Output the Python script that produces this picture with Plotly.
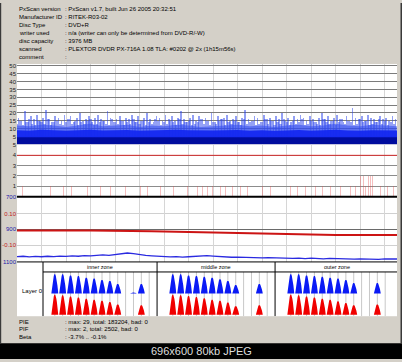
import plotly.graph_objects as go

W, H = 402, 362


def px(x):
    return x / W


def py(y):
    return 1 - y / H


# ---------------- data ----------------
info_labels = ["PxScan version", "Manufacturer ID", "Disc Type", "writer used",
               "disc capacity", "scanned", "comment"]
info_values = ["PxScan v1.7, built Jun 26 2005 20:32:51", "RITEK-R03-02", "DVD+R",
               "n/a (writer can only be determined from DVD-R/-W)", "3976 MB",
               "PLEXTOR DVDR PX-716A 1.08 TLA: #0202 @ 2x (1h15m56s)", ""]

summary_labels = ["PIE", "PIF", "Beta"]
summary_values = ["max: 29, total: 183204, bad: 0", "max: 2, total: 2502, bad: 0",
                  "-3.7% .. -0.1%"]

pie_ticks = [5, 10, 15, 20, 25, 30, 35, 40, 45, 50]
pif_ticks = [1, 2, 3, 4, 5]
jitter_ticks = [700, 900, 1100]
beta_ticks = [0.10, -0.10]
beta_tick_text = ["0.10", "-0.10"]

# PIE: sparse spike maxima (positions every 0.125 along the disc)
pie_spike_x = [0.0625 + 0.125 * i for i in range(124)]
pie_spikes = [17, 15, 21, 14, 18, 16, 19, 15, 17, 22, 16, 14, 18, 17, 15, 19, 16, 18, 14, 17,
              20, 15, 16, 18, 14, 17, 19, 16, 15, 21, 17, 14, 16, 18, 15, 17, 16, 19, 14, 18,
              15, 17, 20, 16, 14, 18, 17, 15, 19, 16, 18, 15, 17, 21, 16, 14, 17, 19, 15, 18,
              16, 17, 15, 20, 14, 18, 16, 17, 19, 15, 16, 18, 14, 17, 22, 16, 15, 18, 17, 14,
              19, 16, 17, 15, 18, 16, 20, 15, 17, 14, 18, 16, 19, 17, 15, 18, 16, 14, 17, 20,
              16, 18, 15, 17, 19, 16, 14, 18, 15, 23, 17, 16, 18, 15, 19, 17, 16, 14, 18, 16,
              17, 15, 18, 16]
# PIE: in-between fuzz (offset positions)
pie_fuzz_x = [0.125 * i for i in range(124)]
pie_fuzz = [13, 15, 12, 14, 16, 13, 12, 15, 14, 13, 16, 12, 14, 15, 13, 12, 14, 16, 13, 15,
            12, 14, 13, 15, 16, 12, 13, 14, 15, 13, 12, 16, 14, 13, 15, 12, 14, 13, 16, 14,
            13, 15, 12, 14, 13, 16, 15, 12, 14, 13, 15, 14, 12, 16, 13, 14, 15, 12, 13, 14,
            16, 13, 15, 12, 14, 13, 15, 16, 12, 14, 13, 15, 14, 12, 16, 13, 14, 15, 12, 13,
            14, 16, 13, 15, 12, 14, 13, 16, 14, 12, 15, 13, 14, 16, 12, 13, 15, 14, 13, 12,
            16, 14, 13, 15, 12, 14, 16, 13, 15, 14, 12, 13, 16, 14, 15, 12, 13, 14, 16, 13,
            15, 12, 14, 13]
# PIE: dense envelopes (every 0.5)
pie_env_x = [0.5 * i for i in range(32)]
pie_mid = [12, 11.5, 12.5, 12, 11, 12, 13, 11.5, 12, 12.5, 11, 12, 11.5, 12.5, 12, 11,
           11.5, 12, 12.5, 11.5, 12, 11, 12, 12.5, 11.5, 12, 13, 12, 11.5, 12.5, 12, 11.5]
pie_core = [9, 8.6, 9.3, 8.8, 8.6, 9, 9.3, 8.7, 8.9, 9.1, 8.6, 8.8, 8.7, 9.2, 8.9, 8.6,
            8.7, 9, 9.1, 8.6, 8.9, 8.5, 8.8, 9.1, 8.6, 8.9, 9.3, 8.8, 8.6, 9, 8.9, 8.7]
pie_base = [4.5, 4.5, 4.6, 4.5, 4.4, 4.5, 4.5, 4.6, 4.5, 4.5, 4.4, 4.5, 4.5, 4.6, 4.5, 4.5,
            4.4, 4.5, 4.5, 4.6, 4.5, 4.5, 4.4, 4.5, 4.5, 4.6, 4.5, 4.5, 4.4, 4.5, 4.5, 4.5]

# PIF spikes
pif_x = [0.08, 0.24, 0.61, 0.65, 1.02, 1.06, 1.14, 1.35, 1.55, 1.88, 2.24, 2.57, 2.65, 2.86,
         3.18, 3.39, 3.80, 4.08, 4.20, 4.41, 4.61, 5.02, 5.31, 5.55, 5.84, 6.12, 6.37, 6.65,
         6.94, 7.35, 7.55, 7.76, 7.96, 8.29, 8.49, 8.78, 9.10, 9.39, 9.71, 10.0, 10.33, 10.73,
         11.14, 11.43, 11.76, 12.16, 12.45, 12.78, 13.18, 13.59, 13.80, 14.0, 14.12, 14.2,
         14.33, 14.41, 14.49, 14.82, 15.1, 15.35]
pif_val = [1, 1, 1, 1, 1, 1, 2, 1, 1, 1, 1, 1, 2, 1,
           1, 1, 1, 1, 1, 1, 1, 1, 1, 1, 1, 1, 1, 1,
           1, 1, 1, 1, 1, 1, 1, 1, 1, 1, 1, 1, 1, 1,
           1, 1, 1, 1, 1, 1, 1, 1, 1, 2, 2, 1,
           2, 2, 2, 1, 1, 1]

# Beta (red) and jitter (blue)
beta_x = [0.5 * i for i in range(32)]
beta_val = [-0.008, -0.007, -0.006, -0.006, -0.007, -0.007, -0.008, -0.008, -0.009, -0.010,
            -0.011, -0.012, -0.013, -0.014, -0.015, -0.017, -0.019, -0.021, -0.023, -0.025,
            -0.027, -0.029, -0.031, -0.032, -0.033, -0.034, -0.035, -0.035, -0.036, -0.036,
            -0.035, -0.036]
jit_x = [0.25 * i for i in range(63)]
jit_val = [1068, 1066, 1070, 1067, 1069,
           1066, 1068, 1065, 1067,
           1064, 1066, 1062, 1063,
           1060, 1058, 1060, 1055,
           1052, 1046, 1050, 1056,
           1060, 1063, 1066, 1068,
           1070, 1068, 1071, 1069,
           1066, 1064, 1062, 1065,
           1068, 1070, 1072, 1071,
           1073, 1075, 1074, 1076,
           1075, 1077, 1076, 1078,
           1079, 1077, 1080, 1078,
           1080, 1082, 1079, 1081,
           1083, 1081, 1084, 1082,
           1084, 1083, 1085, 1082,
           1084, 1083]

# Quality zones: 15 slots per zone
zone_names = ["inner zone", "middle zone", "outer zone"]
blue_inner = [0, 20, 20, 19, 18.3, 16.7, 15.7, 14.3, 13.3, 10, 0, 1.2, 10, 0, 0]
red_inner = [0, 20.7, 20, 19, 18, 16.7, 15.7, 14.7, 13.3, 10.7, 0, 0, 10, 0, 0]
blue_middle = [0, 20, 20, 19, 18.5, 17.7, 16.7, 15, 13.3, 9, 0, 0, 10, 0, 0]
red_middle = [0, 20.7, 20, 19.5, 18.5, 17.3, 15.7, 14.7, 12.7, 9, 0, 0, 10, 0, 0]
blue_outer = [0, 20, 20, 19, 18.3, 17.7, 16.7, 15.7, 14.3, 11, 0, 0, 11, 0, 0]
red_outer = [0, 20.7, 20, 19, 18, 16.7, 15.7, 14, 12.3, 10, 0, 0, 10.7, 0, 0]

# ---------------- figure ----------------
fig = go.Figure()

FONT = "Liberation Sans, Arial, sans-serif"

# PIE panel
fig.add_trace(go.Bar(x=pie_spike_x, y=pie_spikes, width=0.07, marker_color="rgba(40,65,235,0.5)",
                     marker_line_width=0, xaxis="x", yaxis="y", hoverinfo="skip"))
fig.add_trace(go.Bar(x=pie_fuzz_x, y=pie_fuzz, width=0.09, marker_color="rgba(45,70,238,0.5)",
                     marker_line_width=0, xaxis="x", yaxis="y", hoverinfo="skip"))
fig.add_trace(go.Scatter(x=pie_env_x, y=pie_mid, fill="tozeroy", mode="lines", line_width=0,
                         fillcolor="rgba(55,80,240,0.6)", xaxis="x", yaxis="y", hoverinfo="skip"))
fig.add_trace(go.Scatter(x=pie_env_x, y=pie_core, fill="tozeroy", mode="lines", line_width=0,
                         fillcolor="rgba(20,40,240,0.95)", xaxis="x", yaxis="y", hoverinfo="skip"))
fig.add_trace(go.Scatter(x=pie_env_x, y=pie_base, fill="tozeroy", mode="lines", line_width=0,
                         fillcolor="#000c9e", xaxis="x", yaxis="y", hoverinfo="skip"))

# PIF panel
fig.add_trace(go.Bar(x=pif_x, y=pif_val, width=0.035, marker_color="rgba(225,70,70,0.35)",
                     marker_line_width=0, xaxis="x", yaxis="y2", hoverinfo="skip"))

# Jitter / beta panel
fig.add_trace(go.Scatter(x=jit_x, y=jit_val, mode="lines", line=dict(color="#2a2ae0", width=1.3),
                         xaxis="x", yaxis="y3", hoverinfo="skip"))
fig.add_trace(go.Scatter(x=beta_x, y=beta_val, mode="lines", line=dict(color="#cc1414", width=2),
                         xaxis="x", yaxis="y4", hoverinfo="skip"))

# Quality zone peaks
shape_t = [-1, -0.9, -0.75, -0.6, -0.45, -0.3, -0.15, 0, 0.15, 0.3, 0.45, 0.6, 0.75, 0.9, 1]
HALF = 0.44
BLUE_BASE, RED_BASE = 23, 1.5


def peak_polys(heights, base):
    xs, ys = [], []
    for i, h in enumerate(heights):
        if h <= 0:
            continue
        c = i + 0.5
        for t in shape_t:
            xs.append(c + t * HALF)
            ys.append(base + h * (1 - abs(t) ** 1.9))
        xs.append(None)
        ys.append(None)
    return xs, ys


blue_all = blue_inner + blue_middle + blue_outer
red_all = red_inner + red_middle + red_outer
bx, by = peak_polys(blue_all, BLUE_BASE)
rx, ry = peak_polys(red_all, RED_BASE)
fig.add_trace(go.Scatter(x=bx, y=by, fill="toself", mode="lines", line_width=0, fillcolor="#0a1af5",
                         xaxis="x2", yaxis="y5", hoverinfo="skip"))
fig.add_trace(go.Scatter(x=rx, y=ry, fill="toself", mode="lines", line_width=0, fillcolor="#f00000",
                         xaxis="x2", yaxis="y5", hoverinfo="skip"))

tickfont = dict(family=FONT, size=6, color="#202020")
SW = (397 - 43) / 45.0
slot_lines = [z * 15 + s + 0.5 for z in range(3) for s in range(1, 14)]

fig.update_layout(
    width=W, height=H, margin=dict(l=0, r=0, t=0, b=0),
    paper_bgcolor="#d4d0c8", plot_bgcolor="#ffffff",
    showlegend=False, barmode="overlay", bargap=0,
    xaxis=dict(domain=[px(17), px(397)], range=[0, 15.5], showticklabels=False, ticks="",
               showgrid=True, gridcolor="#d6d6d6", gridwidth=1, tick0=0, dtick=1,
               zeroline=False, showline=False, anchor="y3", fixedrange=True),
    yaxis=dict(domain=[py(143.6), py(62)], range=[0, 51.26], tickmode="array", tickvals=pie_ticks,
               showgrid=True, gridcolor="#7c7c7c", zeroline=False, showline=False, ticks="",
               tickfont=tickfont, anchor="x", fixedrange=True),
    yaxis2=dict(domain=[py(197), py(144)], range=[-0.05, 5.05], tickmode="array", tickvals=pif_ticks,
                showgrid=True, gridcolor="#8c8c8c", zeroline=False, showline=False, ticks="",
                tickfont=tickfont, anchor="x", fixedrange=True),
    yaxis3=dict(domain=[py(263.3), py(197)], range=[1101, 699], tickmode="array", tickvals=jitter_ticks,
                showgrid=True, gridcolor="#6a6a6a", zeroline=False, showline=False, ticks="",
                minor=dict(tickvals=[800, 1000], showgrid=True, gridcolor="#d0d0d0"),
                tickfont=dict(family=FONT, size=6, color="#1a1aa8"), anchor="x", fixedrange=True),
    yaxis4=dict(overlaying="y3", range=[-0.2053, 0.2053], tickmode="array", tickvals=beta_ticks,
                ticktext=beta_tick_text, showgrid=False, zeroline=False, showline=False, ticks="",
                side="left", tickfont=dict(family=FONT, size=6, color="#c01818"), anchor="x",
                fixedrange=True),
    xaxis2=dict(domain=[px(17), px(397)], range=[-(43 - 17) / SW, 45], showticklabels=False, ticks="",
                showgrid=False, zeroline=False, showline=False, anchor="y5", fixedrange=True),
    yaxis5=dict(domain=[py(318.5), py(263.3)], range=[0, 55.2], showticklabels=False, ticks="",
                showgrid=False, zeroline=False, showline=False, anchor="x2", fixedrange=True),
)

shapes = []
shapes.append(dict(type="line", xref="x", yref="y2", x0=0, x1=15.5, y0=4, y1=4,
                   line=dict(color="#d83030", width=1)))
# slot lines in zone panel
for s in slot_lines:
    shapes.append(dict(type="line", xref="x2", yref="y5", x0=s, x1=s, y0=0, y1=45,
                       line=dict(color="#c8c8c8", width=1), layer="below"))
# panel separators
shapes.append(dict(type="line", xref="paper", yref="paper", x0=px(17), x1=px(397), y0=py(197), y1=py(197),
                   line=dict(color="#000000", width=2)))
shapes.append(dict(type="line", xref="paper", yref="paper", x0=px(17), x1=px(397), y0=py(263.3), y1=py(263.3),
                   line=dict(color="#000000", width=1)))
shapes.append(dict(type="line", xref="x2", yref="y5", x0=0, x1=45, y0=45, y1=45,
                   line=dict(color="#000000", width=1)))
for xv in [0, 14.5, 29.5]:
    shapes.append(dict(type="line", xref="x2", yref="y5", x0=xv, x1=xv, y0=0, y1=55.2,
                       line=dict(color="#000000", width=1)))
# bottom black strip and window edges
shapes.append(dict(type="rect", xref="paper", yref="paper", x0=0, x1=1, y0=0, y1=py(346),
                   fillcolor="#000000", line_width=0))
shapes.append(dict(type="rect", xref="paper", yref="paper", x0=0, x1=px(1.2), y0=py(346), y1=1,
                   fillcolor="#3a3a3a", line_width=0))
shapes.append(dict(type="rect", xref="paper", yref="paper", x0=px(400.5), x1=1, y0=py(346), y1=1,
                   fillcolor="#3a3a3a", line_width=0))
fig.update_layout(shapes=shapes)

ann = []
txt = dict(family=FONT, size=6, color="#000000")
for i, (lab, val) in enumerate(zip(info_labels, info_values)):
    yy = 6.5 + i * 8.1
    ann.append(dict(text=lab, x=px(17), y=py(yy), xref="paper", yref="paper", xanchor="left",
                    yanchor="middle", showarrow=False, font=txt))
    ann.append(dict(text=": " + val, x=px(63), y=py(yy), xref="paper", yref="paper", xanchor="left",
                    yanchor="middle", showarrow=False, font=txt))
for i, (lab, val) in enumerate(zip(summary_labels, summary_values)):
    yy = 324.3 + i * 7.6
    ann.append(dict(text=lab, x=px(17), y=py(yy), xref="paper", yref="paper", xanchor="left",
                    yanchor="middle", showarrow=False, font=txt))
    ann.append(dict(text=": " + val, x=px(63), y=py(yy), xref="paper", yref="paper", xanchor="left",
                    yanchor="middle", showarrow=False, font=txt))
zone_centers = [7.25, 22, 37.4]
for name, c in zip(zone_names, zone_centers):
    ann.append(dict(text=name, x=c, y=50, xref="x2", yref="y5", xanchor="center", yanchor="middle",
                    showarrow=False, font=dict(family=FONT, size=5.5, color="#000000")))
ann.append(dict(text="Layer 0", x=px(32), y=py(292.5), xref="paper", yref="paper", xanchor="center",
                yanchor="middle", showarrow=False, font=txt))
ann.append(dict(text="696x600 80kb JPEG", x=0.5, y=py(353.8), xref="paper", yref="paper",
                xanchor="center", yanchor="middle", showarrow=False,
                font=dict(family=FONT, size=11, color="#dedede")))
fig.update_layout(annotations=ann)

fig.write_html("out.html", config={"displayModeBar": False},
               post_script="document.body.style.margin='0px';document.body.style.overflow='hidden';")
